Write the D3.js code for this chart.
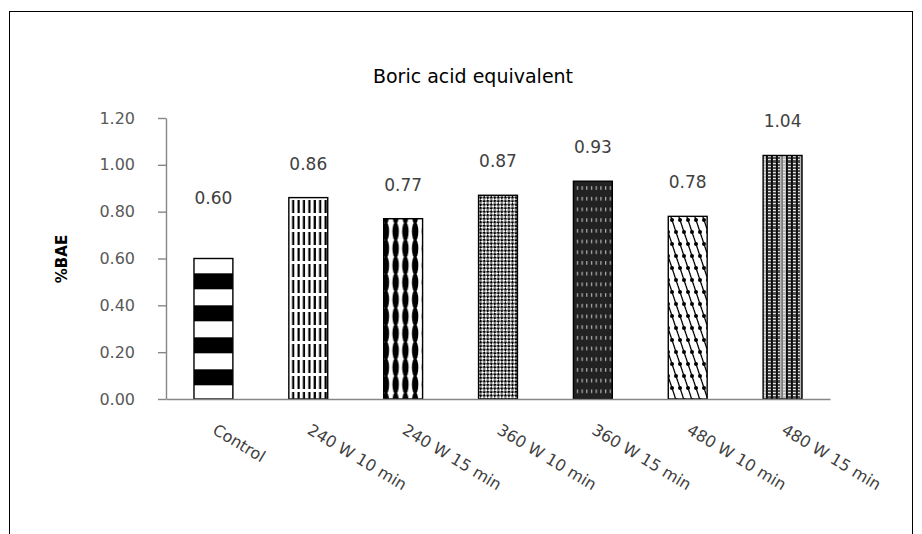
<!DOCTYPE html>
<html>
<head>
<meta charset="utf-8">
<script src="https://cdn.jsdelivr.net/npm/d3@7/dist/d3.min.js"></script>
<style>
  html, body { margin: 0; padding: 0; background: #fff; }
  svg { display: block; }
  text { font-family: "DejaVu Sans", sans-serif; }
</style>
</head>
<body>
<svg id="chart" width="922" height="534"></svg>
<script>
// Treatments and measured boric acid equivalent (%BAE)
const categories = ["Control", "240 W 10 min", "240 W 15 min", "360 W 10 min",
                    "360 W 15 min", "480 W 10 min", "480 W 15 min"];
const baeValues = [0.60, 0.86, 0.77, 0.87, 0.93, 0.78, 1.04];
const yTicks = [0.00, 0.20, 0.40, 0.60, 0.80, 1.00, 1.20];
const fillPatterns = ["p-stripes", "p-vdash", "p-ovals", "p-checks", "p-darkdash", "p-diagdots", "p-weave"];

const svg = d3.select("#chart");
const W = 922, H = 534;
const margin = { left: 166, right: 92, top: 118, bottom: 135 };
const plotW = W - margin.left - margin.right;
const plotH = H - margin.top - margin.bottom;

// chart frame
svg.append("rect")
  .attr("x", 9.5).attr("y", 11.5)
  .attr("width", 903).attr("height", 540)
  .attr("fill", "none").attr("stroke", "#000").attr("stroke-width", 1);

// ---- fill patterns (user space of the plot group) ----
const defs = svg.append("defs");
function pattern(id, w, h, ox, oy) {
  return defs.append("pattern").attr("id", id)
    .attr("patternUnits", "userSpaceOnUse")
    .attr("x", ox || 0).attr("y", oy || 0)
    .attr("width", w).attr("height", h);
}

// wide horizontal bands
let p = pattern("p-stripes", 40, 32, 0, 27.3);
p.append("rect").attr("width", 40).attr("height", 32).attr("fill", "#fff");
p.append("rect").attr("width", 40).attr("height", 16).attr("fill", "#000");

// dashed vertical lines
p = pattern("p-vdash", 5.4, 16, 0.5, 2);
p.append("rect").attr("width", 5.4).attr("height", 16).attr("fill", "#fff");
p.append("rect").attr("x", 1.4).attr("width", 2.2).attr("height", 13).attr("fill", "#000");

// tall lens shapes
p = pattern("p-ovals", 9.75, 17, 0.5, 3);
p.append("rect").attr("width", 9.75).attr("height", 17).attr("fill", "#fff");
p.append("ellipse").attr("cx", 4.9).attr("cy", 8.5).attr("rx", 3.2).attr("ry", 9.4).attr("fill", "#000");

// small diagonal checks
p = pattern("p-checks", 5, 5).attr("patternTransform", "rotate(45)");
p.append("rect").attr("width", 5).attr("height", 5).attr("fill", "#fff");
p.append("rect").attr("width", 2.5).attr("height", 2.5).attr("fill", "#000");
p.append("rect").attr("x", 2.5).attr("y", 2.5).attr("width", 2.5).attr("height", 2.5).attr("fill", "#000");

// dark fill with light dashes
p = pattern("p-darkdash", 4.7, 10.7, 0, 1);
p.append("rect").attr("width", 4.7).attr("height", 10.7).attr("fill", "#222");
p.append("rect").attr("x", 2).attr("y", 3).attr("width", 1.1).attr("height", 3.6).attr("fill", "#c4c4c4");

// steep diagonal lines with dots
p = pattern("p-diagdots", 8, 24, 0, 0);
p.append("rect").attr("width", 8).attr("height", 24).attr("fill", "#fff");
[-8, 0, 8].forEach(dx => {
  p.append("line").attr("x1", dx).attr("y1", 0).attr("x2", dx + 8).attr("y2", 24)
    .attr("stroke", "#000").attr("stroke-width", 1.3);
});
p.append("circle").attr("cx", 2).attr("cy", 6).attr("r", 2).attr("fill", "#000");
p.append("circle").attr("cx", 6).attr("cy", 18).attr("r", 2).attr("fill", "#000");

// grey plaid weave
p = pattern("p-weave", 20, 22, 0, 0);
p.append("rect").attr("width", 20).attr("height", 22).attr("fill", "#4a4a4a");
p.append("rect").attr("x", 14).attr("width", 6).attr("height", 22).attr("fill", "#b8b8b8");
[0, 5, 10].forEach(x => p.append("rect").attr("x", x).attr("width", 1.8).attr("height", 22).attr("fill", "#0a0a0a"));
p.append("rect").attr("x", 15.5).attr("width", 1.2).attr("height", 22).attr("fill", "#666");
for (let yy = 1; yy < 22; yy += 3) {
  [[2, 2.8], [7, 2.8], [12, 1.8], [17, 2.5]].forEach(([x, w]) => {
    p.append("rect").attr("x", x).attr("y", yy).attr("width", w).attr("height", 1.1).attr("fill", "#e8e8e8");
  });
}

// ---- scales ----
const x = d3.scaleBand().domain(categories).range([0, plotW]).paddingInner(0.59).paddingOuter(0.295);
const y = d3.scaleLinear().domain([0, 1.2]).range([plotH, 0]);

const g = svg.append("g").attr("transform", `translate(${margin.left},${margin.top})`);

// y axis
const yAxis = g.append("g")
  .call(d3.axisLeft(y).tickValues(yTicks).tickFormat(d3.format(".2f")).tickSize(8).tickSizeOuter(0).tickPadding(23));
yAxis.select(".domain").attr("stroke", "#868686").attr("stroke-width", 1.4);
yAxis.selectAll(".tick line").attr("stroke", "#868686").attr("stroke-width", 1.4);
yAxis.selectAll(".tick text").attr("fill", "#595959").style("font-size", "16px")
  .style("font-family", '"DejaVu Sans", sans-serif');

// bars
g.selectAll("rect.bar").data(baeValues).join("rect")
  .attr("class", "bar")
  .attr("x", (d, i) => x(categories[i]))
  .attr("y", d => y(d))
  .attr("width", x.bandwidth())
  .attr("height", d => plotH - y(d))
  .attr("fill", (d, i) => `url(#${fillPatterns[i]})`)
  .attr("stroke", "#000").attr("stroke-width", 1.4);

// x axis baseline and rotated category labels
const xAxis = g.append("g").attr("transform", `translate(0,${plotH})`)
  .call(d3.axisBottom(x).tickSize(0).tickSizeOuter(0));
xAxis.select(".domain").attr("stroke", "#868686").attr("stroke-width", 1.4);
xAxis.selectAll(".tick text")
  .attr("fill", "#404040")
  .style("font-size", "16px")
  .style("font-family", '"DejaVu Sans", sans-serif')
  .attr("text-anchor", "start")
  .attr("dy", null).attr("y", 0)
  .attr("transform", "translate(-2,34) rotate(31)");

// value labels (the Control label sits higher above its bar)
g.selectAll("text.val").data(baeValues).join("text")
  .attr("class", "val")
  .attr("x", (d, i) => x(categories[i]) + x.bandwidth() / 2)
  .attr("y", (d, i) => y(d) - (i === 0 ? 55 : 28))
  .attr("text-anchor", "middle")
  .attr("fill", "#404040")
  .style("font-size", "17px")
  .text(d => d.toFixed(2));

// y title
svg.append("text")
  .attr("transform", "translate(67,259) rotate(-90)")
  .attr("text-anchor", "middle")
  .attr("fill", "#000")
  .style("font-size", "15px").style("font-weight", "bold")
  .text("%BAE");

// chart title
svg.append("text")
  .attr("x", 473).attr("y", 83)
  .attr("text-anchor", "middle")
  .attr("fill", "#000")
  .style("font-size", "19px")
  .text("Boric acid equivalent");
</script>
</body>
</html>
